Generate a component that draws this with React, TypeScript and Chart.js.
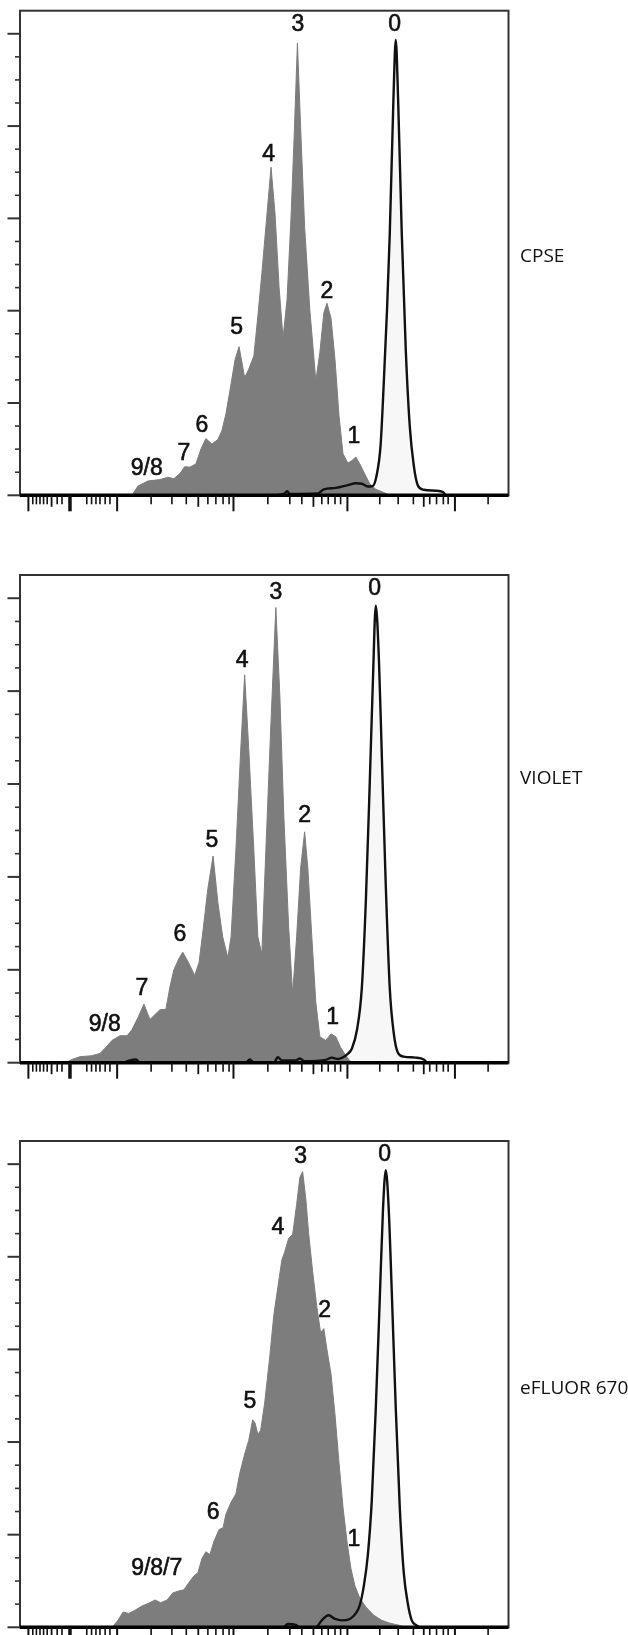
import { useEffect, useRef } from "react";
import { Chart, registerables } from "chart.js";

Chart.register(...registerables);

// ---------- axes (x: display channel, y: % of mode) ----------
const X_MIN = 0;
const X_MAX = 1222;
const Y_MAX = 105;

const X_LONG_TICKS = [21, 243, 534, 819, 1088];
const X_ZERO_TICK = [125];
const X_MEDIUM_TICKS = [79, 446, 734, 1010];
const X_SHORT_TICKS = [
  32, 41, 50, 59, 68, 93, 105, 167, 179, 190, 200, 213, 225, 328, 380, 416, 470,
  490, 508, 523, 620, 675, 705, 755, 771, 788, 802, 900, 946, 984, 1025, 1042,
  1059, 1071, 1171,
];
const Y_MAJOR_TICKS = [0, 20, 40, 60, 80, 100];
const Y_MINOR_TICKS = [5, 10, 15, 25, 30, 35, 45, 50, 55, 65, 70, 75, 85, 90, 95];

// ---------- CPSE ----------
const CPSE_DIVIDED: [number, number][] = [
  [280, 0], [295, 2.0], [320, 3.1], [350, 3.4], [370, 3.9], [385, 3.6], [400, 4.7],
  [412, 6.2], [425, 6.1], [440, 6.8], [453, 10.1], [465, 12.3], [480, 11.1],
  [495, 12.1], [505, 14.0], [515, 17.6], [525, 22.6], [538, 29.4], [548, 32.2],
  [562, 25.5], [572, 27.3], [585, 30.2], [595, 38.8], [605, 48.1], [615, 58.1],
  [628, 71.1], [638, 61.0], [648, 45.2], [658, 34.1], [668, 42.4], [678, 60.3],
  [686, 78.2], [694, 98.0], [702, 79.7], [712, 58.1], [725, 40.2], [740, 24.8],
  [750, 30.9], [760, 39.5], [768, 41.6], [778, 38.4], [788, 29.4], [798, 17.2],
  [808, 9.0], [820, 7.0], [830, 7.5], [840, 8.3], [850, 6.8], [862, 4.7],
  [875, 2.5], [890, 1.3], [910, 0.6], [925, 0],
];
const CPSE_UNDIVIDED: [number, number][] = [
  [640, 0], [662, 0.4], [668, 0.9], [675, 0.3], [745, 0.4], [760, 1.3], [790, 1.6],
  [820, 2.2], [840, 2.6], [855, 2.5], [870, 1.9], [882, 2.0], [892, 4.3],
  [902, 10.8], [910, 24.4], [918, 40.0], [925, 56.7], [934, 85.4], [940, 98.7],
  [946, 85.4], [955, 56.7], [965, 31.6], [975, 15.0], [985, 6.5], [995, 2.2],
  [1010, 1.2], [1040, 1.0], [1058, 0.7], [1065, 0],
];
const CPSE_PEAK_LABELS: [string, number, number][] = [
  ["3", 695, 102], ["0", 937, 102], ["4", 622, 73.9], ["2", 768, 44.1],
  ["5", 542, 36.3], ["6", 455, 15.1], ["7", 410, 9.0], ["9/8", 317, 5.7],
  ["1", 835, 12.6],
];

// ---------- VIOLET ----------
const VIOLET_DIVIDED: [number, number][] = [
  [115, 0], [130, 0.7], [150, 1.3], [180, 1.5], [200, 2.0], [215, 3.3], [230, 4.8],
  [250, 5.8], [268, 5.8], [280, 7.1], [295, 9.7], [310, 12.6], [325, 9.3],
  [338, 10.4], [350, 11.4], [365, 11.5], [375, 16.3], [385, 20.0], [397, 22.3],
  [407, 23.8], [420, 21.8], [437, 18.8], [448, 21.6], [458, 28.6], [470, 37.5],
  [483, 44.5], [495, 34.5], [507, 27.1], [520, 22.6], [528, 27.1], [540, 45.7],
  [552, 67.1], [562, 83.5], [572, 67.9], [585, 45.7], [595, 27.1], [605, 23.4],
  [615, 45.7], [627, 71.6], [640, 98.0], [650, 79.1], [660, 53.1], [672, 29.3],
  [682, 14.8], [692, 27.1], [702, 41.9], [712, 49.7], [720, 41.9], [730, 27.1],
  [740, 13.0], [750, 5.6], [765, 4.8], [778, 6.2], [790, 5.6], [802, 3.3],
  [815, 1.5], [825, 0.4], [835, 0],
];
const VIOLET_UNDIVIDED: [number, number][] = [
  [260, 0], [275, 0.5], [290, 0.7], [300, 0], [565, 0], [575, 0.7], [585, 0],
  [635, 0], [645, 1.2], [655, 0.5], [690, 0.5], [700, 0.9], [712, 0.3], [765, 0.6],
  [780, 1.1], [795, 0.8], [820, 1.9], [830, 3.0], [843, 7.1], [855, 16.0],
  [865, 34.5], [875, 60.5], [883, 82.8], [890, 98.4], [898, 86.5], [905, 66.4],
  [915, 38.2], [925, 16.0], [935, 6.3], [945, 2.2], [960, 1.3], [990, 1.1],
  [1010, 0.7], [1018, 0],
];
const VIOLET_PEAK_LABELS: [string, number, number][] = [
  ["3", 640, 101.3], ["0", 887, 102.1], ["4", 556, 86.5], ["2", 712, 53.1],
  ["5", 480, 47.9], ["6", 400, 27.5], ["7", 305, 16.0], ["9/8", 212, 8.2],
  ["1", 782, 9.7],
];

// ---------- eFLUOR 670 ----------
const EFLUOR_DIVIDED: [number, number][] = [
  [230, 0], [245, 1.5], [258, 3.3], [272, 3.0], [288, 3.7], [305, 4.6], [322, 5.2],
  [338, 5.9], [352, 5.3], [368, 5.9], [382, 7.4], [395, 7.8], [410, 8.1],
  [422, 9.6], [435, 11.1], [445, 11.8], [455, 14.8], [465, 16.3], [475, 15.7],
  [485, 18.5], [498, 21.1], [508, 21.5], [515, 24.4], [528, 27.0], [540, 28.8],
  [550, 33.3], [562, 37.4], [572, 40.3], [582, 44.8], [588, 44.1], [595, 41.7],
  [602, 42.5], [612, 48.4], [625, 58.6], [635, 67.5], [645, 73.4], [655, 79.3],
  [662, 81.0], [672, 84.0], [682, 84.8], [692, 91.3], [700, 97.1], [707, 98.4],
  [715, 92.5], [722, 85.1], [732, 76.9], [742, 69.5], [752, 63.6], [760, 64.5],
  [768, 59.9], [778, 54.7], [788, 45.9], [798, 35.5], [808, 25.9], [818, 18.5],
  [828, 12.6], [838, 8.9], [850, 6.3], [865, 4.4], [885, 2.6], [905, 1.5],
  [925, 0.9], [950, 0.4], [960, 0],
];
const EFLUOR_UNDIVIDED: [number, number][] = [
  [660, 0], [670, 0.7], [690, 0.5], [700, 0], [740, 0], [755, 1.5], [772, 2.6],
  [788, 1.8], [805, 1.5], [825, 1.8], [840, 3.0], [850, 4.8], [860, 8.9],
  [870, 15.5], [880, 27.4], [890, 47.3], [900, 71.0], [908, 90.2], [915, 98.7],
  [922, 91.0], [930, 72.5], [940, 47.3], [950, 25.9], [960, 11.8], [970, 5.2],
  [980, 1.5], [992, 0.4], [1000, 0],
];
const EFLUOR_PEAK_LABELS: [string, number, number][] = [
  ["3", 702, 101.7], ["0", 912, 102.1], ["4", 645, 86.2], ["2", 762, 68.4],
  ["5", 575, 48.8], ["6", 483, 24.8], ["9/8/7", 342, 12.6], ["1", 835, 18.9],
];

// ---------- layout / style ----------
type PanelCfg = {
  name: string;
  divided: [number, number][];
  undivided: [number, number][];
  labels: [string, number, number][];
  top: number;
  height: number;
  padTop: number;
  padBottom: number;
  sideLabelY: number;
};

const PANELS: PanelCfg[] = [
  { name: "CPSE", divided: CPSE_DIVIDED, undivided: CPSE_UNDIVIDED, labels: CPSE_PEAK_LABELS,
    top: 0, height: 520, padTop: 10.7, padBottom: 24.7, sideLabelY: 257 },
  { name: "VIOLET", divided: VIOLET_DIVIDED, undivided: VIOLET_UNDIVIDED, labels: VIOLET_PEAK_LABELS,
    top: 560, height: 520, padTop: 15, padBottom: 17.3, sideLabelY: 219 },
  { name: "eFLUOR 670", divided: EFLUOR_DIVIDED, undivided: EFLUOR_UNDIVIDED, labels: EFLUOR_PEAK_LABELS,
    top: 1120, height: 515, padTop: 21, padBottom: 7.7, sideLabelY: 269 },
];

const GRAY = "#7d7d7d";
const LIGHT_FILL = "rgba(205,205,205,0.16)";

const toPts = (arr: [number, number][]) => arr.map(([x, y]) => ({ x, y }));

function Panel({ cfg }: { cfg: PanelCfg }) {
  const ref = useRef<HTMLCanvasElement>(null);

  useEffect(() => {
    const decor = {
      id: "decor-" + cfg.name,
      afterDatasetsDraw(chart: any) {
        const { ctx, chartArea: a, scales } = chart;
        const xs = scales.x;
        const ys = scales.y;
        ctx.save();
        // frame
        ctx.strokeStyle = "#333";
        ctx.lineWidth = 2;
        ctx.strokeRect(a.left, a.top, a.right - a.left, a.bottom - a.top);
        // baseline
        const base = ys.getPixelForValue(0);
        ctx.strokeStyle = "#000";
        ctx.lineWidth = 3.5;
        ctx.beginPath();
        ctx.moveTo(a.left, base);
        ctx.lineTo(a.right, base);
        ctx.stroke();
        // y ticks
        ctx.strokeStyle = "#333";
        const yTick = (v: number, len: number, lw: number) => {
          const p = ys.getPixelForValue(v);
          ctx.lineWidth = lw;
          ctx.beginPath();
          ctx.moveTo(a.left - len, p);
          ctx.lineTo(a.left, p);
          ctx.stroke();
        };
        Y_MAJOR_TICKS.forEach((v) => yTick(v, 12.5, 2));
        Y_MINOR_TICKS.forEach((v) => yTick(v, 5, 1.6));
        // x ticks
        ctx.strokeStyle = "#111";
        const xTick = (v: number, len: number, lw: number) => {
          const p = xs.getPixelForValue(v);
          ctx.lineWidth = lw;
          ctx.beginPath();
          ctx.moveTo(p, base);
          ctx.lineTo(p, base + len);
          ctx.stroke();
        };
        X_SHORT_TICKS.forEach((v) => xTick(v, 9, 1.6));
        X_MEDIUM_TICKS.forEach((v) => xTick(v, 11.5, 1.8));
        X_LONG_TICKS.forEach((v) => xTick(v, 16, 2));
        X_ZERO_TICK.forEach((v) => xTick(v, 16, 3.5));
        // peak labels
        ctx.fillStyle = "#111";
        ctx.strokeStyle = "#111";
        ctx.lineWidth = 0.6;
        ctx.font = '23px "Liberation Sans", Arial, sans-serif';
        ctx.textAlign = "center";
        ctx.textBaseline = "middle";
        cfg.labels.forEach(([t, x, y]) => {
          const px = xs.getPixelForValue(x);
          const py = ys.getPixelForValue(y);
          ctx.fillText(t, px, py);
          ctx.strokeText(t, px, py);
        });
        // side label
        ctx.fillStyle = "#111";
        ctx.font = '19px "Open Sans", "Noto Sans", sans-serif';
        ctx.textAlign = "left";
        ctx.fillText(cfg.name, 520, cfg.sideLabelY);
        ctx.restore();
      },
    };

    const chart = new Chart(ref.current!, {
      type: "line",
      data: {
        datasets: [
          {
            data: toPts(cfg.undivided),
            borderColor: "#111",
            borderWidth: 2.4,
            fill: false,
            pointRadius: 0,
            cubicInterpolationMode: "monotone",
            order: 0,
          },
          {
            data: toPts(cfg.divided),
            borderColor: GRAY,
            borderWidth: 1,
            backgroundColor: GRAY,
            fill: "origin",
            pointRadius: 0,
            tension: 0,
            order: 1,
          },
          {
            data: toPts(cfg.undivided),
            borderWidth: 0,
            borderColor: "rgba(0,0,0,0)",
            backgroundColor: LIGHT_FILL,
            fill: "origin",
            pointRadius: 0,
            cubicInterpolationMode: "monotone",
            order: 2,
          },
        ],
      },
      options: {
        animation: false,
        responsive: false,
        layout: { padding: { left: 20, right: 119.5, top: cfg.padTop, bottom: cfg.padBottom } },
        scales: {
          x: { type: "linear", min: X_MIN, max: X_MAX, display: false },
          y: { type: "linear", min: 0, max: Y_MAX, display: false },
        },
        plugins: { legend: { display: false }, tooltip: { enabled: false } },
      },
      plugins: [decor],
    } as any);
    return () => chart.destroy();
  }, [cfg]);

  return (
    <canvas
      ref={ref}
      width={628}
      height={cfg.height}
      style={{ position: "absolute", left: 0, top: cfg.top, width: 628, height: cfg.height }}
    />
  );
}

export default function App() {
  return (
    <div>
      {PANELS.map((p) => (
        <Panel key={p.name} cfg={p} />
      ))}
    </div>
  );
}
